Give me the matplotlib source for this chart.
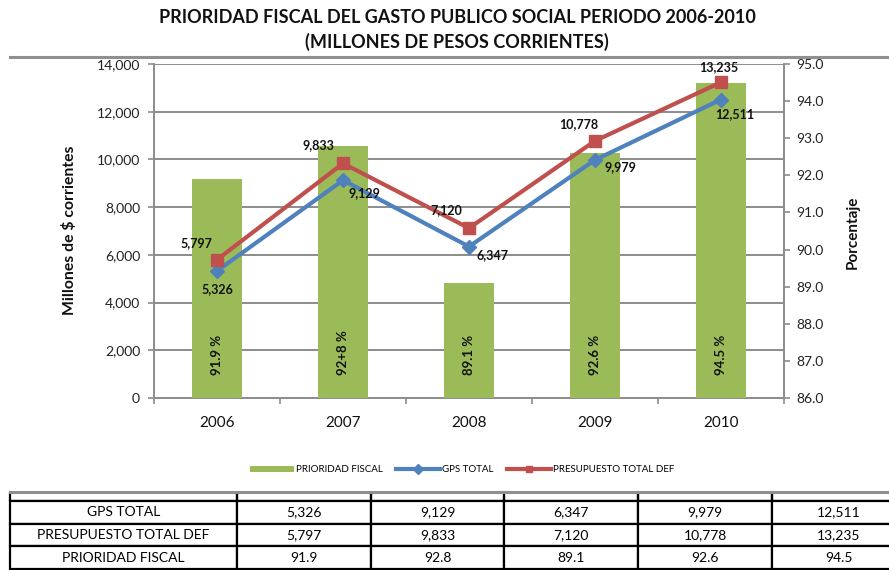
import matplotlib
matplotlib.use('Agg')
import matplotlib.pyplot as plt
from matplotlib.patches import Rectangle, Patch
from matplotlib.lines import Line2D

# ---------------- data ----------------
years = ['2006', '2007', '2008', '2009', '2010']
gps_total = [5326, 9129, 6347, 9979, 12511]
presupuesto_total = [5797, 9833, 7120, 10778, 13235]
prioridad_fiscal = [91.9, 92.8, 89.1, 92.6, 94.5]
bar_labels = ['91.9 %', '92+8 %', '89.1 %', '92.6 %', '94.5 %']
left_ticks = [0, 2000, 4000, 6000, 8000, 10000, 12000, 14000]
right_ticks = [86.0, 87.0, 88.0, 89.0, 90.0, 91.0, 92.0, 93.0, 94.0, 95.0]
row_names = ['GPS TOTAL', 'PRESUPUESTO TOTAL DEF', 'PRIORIDAD FISCAL']

title = 'PRIORIDAD FISCAL DEL GASTO PUBLICO SOCIAL PERIODO 2006-2010\n(MILLONES DE PESOS CORRIENTES)'

# ---------------- style ----------------
FONT = 'Lato'
plt.rcParams['font.family'] = [FONT, 'DejaVu Sans']
GREEN = '#9BBB59'
BLUE = '#4F81BD'
RED = '#C0504D'
GRID = '#8C8C8C'

W, H = 889, 570
fig = plt.figure(figsize=(W / 100, H / 100), dpi=100)
fig.patch.set_facecolor('white')


def fx(x):
    return x / W


def fy(y):
    return 1 - y / H


# ---------------- table (behind the chart area) ----------------
tab_left, tab_right = 10, 906
tab_top, tab_bottom = 478, 569
tax = fig.add_axes([fx(tab_left), fy(tab_bottom), (tab_right - tab_left) / W,
                    (tab_bottom - tab_top) / H], zorder=0)
tax.axis('off')
cell_text = [[''] + years]
cell_text.append([row_names[0]] + [f'{v:,}' for v in gps_total])
cell_text.append([row_names[1]] + [f'{v:,}' for v in presupuesto_total])
cell_text.append([row_names[2]] + [f'{v:.1f}' for v in prioridad_fiscal])
col_px = [227, 134, 133, 134, 134, 134]
tot = sum(col_px)
tbl = tax.table(cellText=cell_text, colWidths=[c / tot for c in col_px],
                cellLoc='center', bbox=[0, 0, 1, 1])
tbl.auto_set_font_size(False)
for (r, c), cell in tbl.get_celld().items():
    cell.set_linewidth(1.6)
    cell.set_edgecolor('black')
    cell.get_text().set_fontsize(10)
    cell.get_text().set_fontfamily(FONT)
    if r == 0:
        cell.visible_edges = 'LRB'
        cell.get_text().set_va('bottom')

# ---------------- chart area (white, gray borders) ----------------
fig.add_artist(Rectangle((0, fy(492)), 1, (492 - 57) / H,
                         transform=fig.transFigure, facecolor='white',
                         edgecolor='none', zorder=0.5))
for yy in (57, 492):
    fig.add_artist(Line2D([fx(10), 1.0], [fy(yy), fy(yy)],
                          transform=fig.transFigure, color='#8F8F8F',
                          linewidth=2.2, zorder=0.6))

# ---------------- main axes ----------------
L, R, T, B = 154, 784, 64, 398
pos = [fx(L), fy(B), (R - L) / W, (B - T) / H]
x = list(range(len(years)))

ax = fig.add_axes(pos, zorder=1)
ax.set_xlim(-0.5, len(years) - 0.5)
ax.set_ylim(0, 14000)
ax.set_yticks(left_ticks)
ax.set_yticklabels([f'{t:,}' for t in left_ticks])
ax.yaxis.grid(True, color=GRID, linewidth=1.4)
ax.set_axisbelow(True)
for s in ('top', 'right'):
    ax.spines[s].set_visible(False)
for s in ('left', 'bottom'):
    ax.spines[s].set_color(GRID)
    ax.spines[s].set_linewidth(1.4)
ax.tick_params(axis='y', direction='out', length=4, width=1.2, color=GRID,
               labelsize=10, labelcolor='#222222', pad=6)
ax.set_xticks([i - 0.5 for i in range(len(years) + 1)])
ax.set_xticklabels([])
ax.tick_params(axis='x', which='major', direction='out', length=4, width=1.2,
               color=GRID)
ax.set_xticks(x, minor=True)
ax.set_xticklabels(years, minor=True)
ax.tick_params(axis='x', which='minor', length=0, labelsize=11,
               labelcolor='#111111', pad=13)

# bars on the right (percentage) scale
ax2 = ax.twinx()
ax2.set_zorder(2)
ax2.patch.set_visible(False)
ax2.set_ylim(86, 95)
ax2.set_yticks(right_ticks)
ax2.set_yticklabels([f'{t:.1f}' for t in right_ticks])
ax2.bar(x, prioridad_fiscal, width=0.4, color=GREEN, bottom=0)
ax2.set_ylim(86, 95)
for s in ('top', 'left', 'bottom'):
    ax2.spines[s].set_visible(False)
ax2.spines['right'].set_color(GRID)
ax2.spines['right'].set_linewidth(1.4)
ax2.tick_params(axis='y', direction='out', length=4, width=1.2, color=GRID,
                labelsize=10, labelcolor='#222222', pad=5)
for xi, lab in zip(x, bar_labels):
    ax2.text(xi, 86.62, lab, rotation=90, ha='center', va='bottom',
             fontsize=9.5, fontweight='bold', color='#111111')

# lines on the left (millions) scale
ax3 = ax.twinx()
ax3.set_zorder(3)
ax3.patch.set_visible(False)
ax3.set_ylim(ax.get_ylim())
ax3.axis('off')
ax3.plot(x, gps_total, color=BLUE, linewidth=3, marker='D', markersize=7.5,
         clip_on=False, zorder=3)
ax3.plot(x, presupuesto_total, color=RED, linewidth=3, marker='s',
         markersize=8.5, clip_on=False, zorder=4)

gps_off = [(0, -18), (21, -13), (23, -8), (25, -7), (14, -15)]
pre_off = [(-21, 17), (-25, 18), (-23, 18), (-16, 17), (-2, 15)]
for xi, v, o in zip(x, gps_total, gps_off):
    ax3.annotate(f'{v:,}', (xi, v), xytext=o, textcoords='offset pixels',
                 ha='center', va='center', fontsize=9, fontweight='bold',
                 color='#111111', zorder=6)
for xi, v, o in zip(x, presupuesto_total, pre_off):
    ax3.annotate(f'{v:,}', (xi, v), xytext=o, textcoords='offset pixels',
                 ha='center', va='center', fontsize=9, fontweight='bold',
                 color='#111111', zorder=6)

# ---------------- texts ----------------
fig.text(fx(457), fy(30), title, ha='center', va='center', fontsize=13,
         fontweight='bold', linespacing=1.4, color='#111111', zorder=3)
fig.text(fx(70), fy(230), 'Millones de $ corrientes', rotation=90,
         ha='center', va='center', fontsize=11.3, fontweight='bold',
         color='#111111', zorder=3)
fig.text(fx(853), fy(232), 'Porcentaje', rotation=90, ha='center',
         va='center', fontsize=11, fontweight='bold', color='#111111',
         zorder=3)

# ---------------- legend ----------------
handles = [Patch(facecolor=GREEN, edgecolor='none'),
           Line2D([], [], color=BLUE, linewidth=3, marker='D', markersize=5),
           Line2D([], [], color=RED, linewidth=3, marker='s', markersize=5)]
labels = ['PRIORIDAD FISCAL', 'GPS TOTAL', 'PRESUPUESTO TOTAL DEF']
leg = fig.legend(handles, labels, loc='center', bbox_to_anchor=(fx(462), fy(470)),
                 ncol=3, frameon=False, fontsize=7, handlelength=4.5,
                 handleheight=0.6, handletextpad=0.2, columnspacing=1.4)
leg.set_zorder(5)

fig.savefig('out.png', dpi=100)
